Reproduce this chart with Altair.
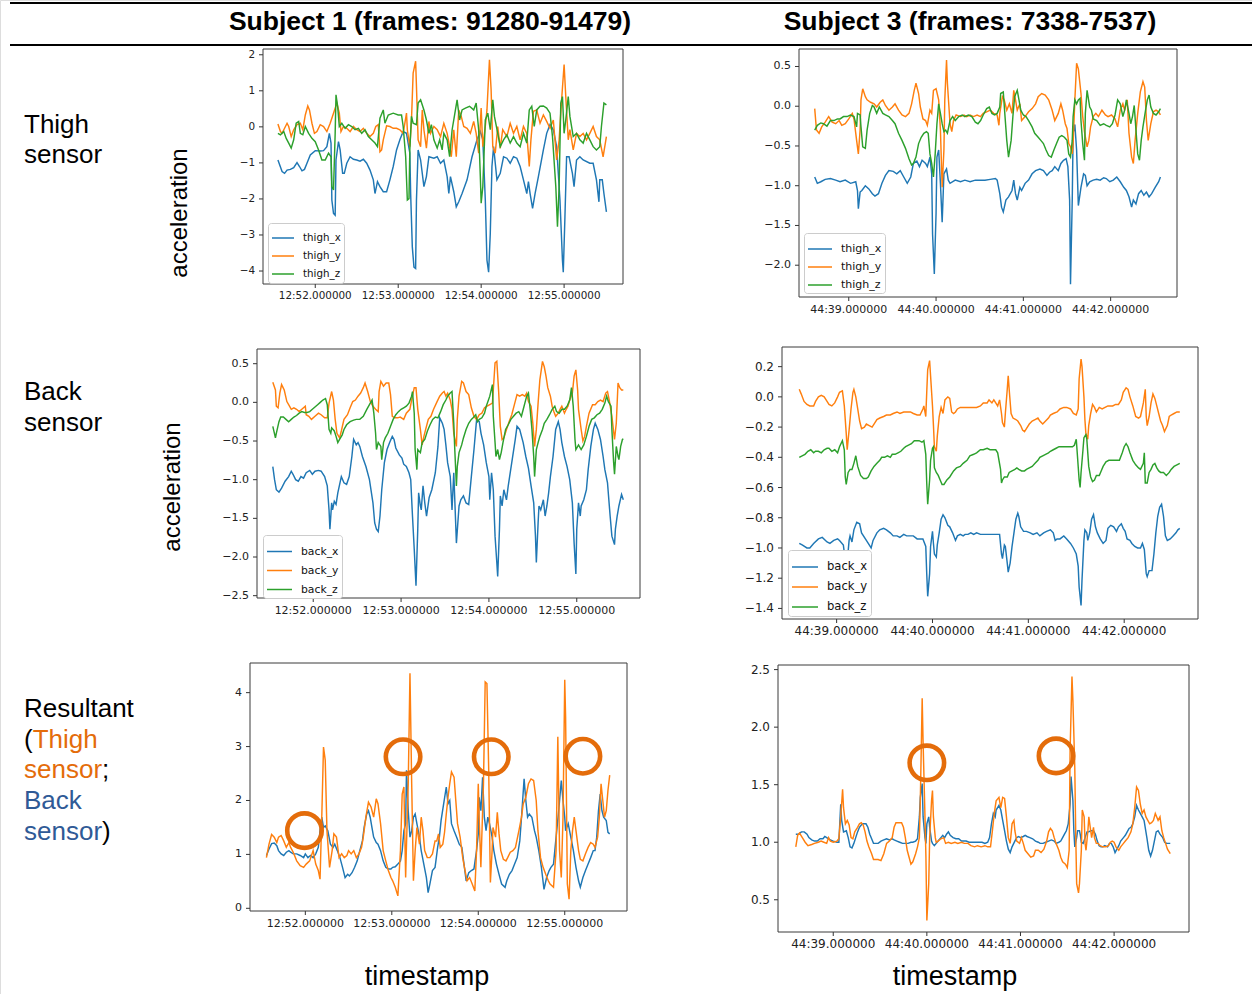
import altair as alt
import pandas as pd

# ---------------- data (time in seconds of the minute, value in g) ----------------
S1_THIGH_X = [(51.55,-0.92),(51.60,-1.24),(51.63,-1.29),(51.66,-1.20),(51.70,-1.18),(51.74,-1.13),(51.78,-0.99),(51.81,-1.10),(51.84,-1.22),(51.87,-1.18),(51.90,-1.01),(51.94,-0.78),(52.00,-0.66),(52.06,-0.67),(52.10,-0.66),(52.14,-0.55),(52.17,-0.18),(52.19,-0.45),(52.20,-2.03),(52.22,-2.40),(52.24,-2.45),(52.25,-0.92),(52.28,-0.41),(52.30,-0.64),(52.33,-1.29),(52.35,-1.29),(52.38,-1.01),(52.42,-0.83),(52.46,-0.90),(52.50,-0.92),(52.54,-0.95),(52.58,-0.90),(52.62,-1.01),(52.66,-1.20),(52.70,-1.47),(52.72,-1.85),(52.75,-1.52),(52.78,-1.66),(52.82,-1.80),(52.86,-1.80),(52.90,-1.47),(52.94,-1.10),(52.98,-0.64),(53.02,-0.36),(53.06,-0.13),(53.10,-0.18),(53.14,-0.73),(53.15,-1.85),(53.17,-3.33),(53.19,-3.89),(53.21,-3.93),(53.22,-2.03),(53.24,-0.64),(53.27,-0.92),(53.31,-1.66),(53.34,-1.38),(53.37,-0.83),(53.43,-0.87),(53.47,-0.83),(53.51,-1.01),(53.55,-0.92),(53.59,-1.38),(53.61,-1.85),(53.63,-1.38),(53.67,-1.80),(53.70,-2.22),(53.73,-2.08),(53.77,-1.85),(53.83,-1.47),(53.89,-0.83),(53.95,-0.36),(53.99,-0.13),(54.02,-0.36),(54.05,-2.03),(54.07,-3.70),(54.09,-4.03),(54.11,-2.96),(54.13,-1.10),(54.15,-0.55),(54.19,-1.47),(54.23,-1.29),(54.27,-0.83),(54.31,-0.87),(54.35,-1.01),(54.39,-0.83),(54.43,-0.87),(54.47,-1.10),(54.51,-1.47),(54.55,-1.85),(54.57,-1.52),(54.59,-1.85),(54.62,-2.26),(54.65,-1.85),(54.69,-1.38),(54.75,-0.64),(54.79,-0.18),(54.83,0.06),(54.87,-0.08),(54.91,-0.55),(54.95,-2.03),(54.98,-3.70),(54.99,-4.03),(55.01,-2.50),(55.03,-0.83),(55.06,-0.83),(55.10,-1.29),(55.12,-1.66),(55.15,-0.92),(55.19,-0.83),(55.23,-0.92),(55.31,-1.01),(55.35,-1.01),(55.39,-1.47),(55.42,-2.08),(55.43,-1.47),(55.46,-1.47),(55.48,-1.85),(55.51,-2.36)]
S1_THIGH_Y = [(51.55,0.08),(51.58,-0.13),(51.60,-0.18),(51.63,-0.04),(51.66,0.10),(51.68,0.01),(51.71,-0.27),(51.74,-0.08),(51.78,0.06),(51.82,0.10),(51.85,-0.08),(51.88,0.33),(51.91,0.58),(51.93,0.47),(51.96,0.10),(51.99,-0.18),(52.02,-0.13),(52.06,0.06),(52.10,0.01),(52.14,-0.13),(52.18,0.10),(52.22,0.38),(52.26,0.66),(52.29,0.38),(52.31,-0.13),(52.34,0.01),(52.38,-0.04),(52.42,-0.13),(52.46,0.01),(52.50,-0.08),(52.54,-0.13),(52.58,-0.04),(52.62,-0.18),(52.66,-0.27),(52.70,-0.18),(52.73,0.01),(52.76,0.06),(52.78,-0.69),(52.80,-0.64),(52.82,-0.36),(52.86,0.03),(52.90,0.01),(52.94,-0.04),(52.98,-0.04),(53.02,-0.08),(53.06,-0.18),(53.10,0.38),(53.11,-0.08),(53.14,-0.55),(53.16,0.19),(53.18,1.49),(53.21,1.82),(53.22,1.12),(53.24,-0.36),(53.27,-0.55),(53.29,0.47),(53.31,-0.08),(53.34,-0.59),(53.37,0.15),(53.39,-0.18),(53.43,0.01),(53.47,-0.08),(53.51,-0.27),(53.55,0.10),(53.59,-0.18),(53.62,-0.55),(53.64,-0.83),(53.67,-0.08),(53.70,-0.83),(53.73,0.47),(53.76,0.29),(53.79,0.01),(53.83,-0.04),(53.87,-0.18),(53.91,0.15),(53.94,-0.18),(53.97,-0.73),(54.00,0.52),(54.02,-0.55),(54.05,0.01),(54.07,0.47),(54.10,1.86),(54.12,1.03),(54.14,-0.55),(54.17,-0.73),(54.20,0.01),(54.23,-0.59),(54.26,-0.08),(54.31,-0.27),(54.35,0.10),(54.39,-0.18),(54.43,0.01),(54.47,-0.36),(54.51,0.01),(54.55,-0.18),(54.58,-1.10),(54.60,-0.36),(54.63,0.43),(54.67,0.47),(54.71,0.10),(54.75,0.33),(54.79,0.15),(54.83,-0.04),(54.87,0.19),(54.91,-0.92),(54.94,-0.36),(54.97,0.75),(55.00,1.73),(55.02,0.84),(55.05,-0.36),(55.07,-0.08),(55.11,-0.64),(55.15,-0.18),(55.19,-0.27),(55.23,-0.18),(55.27,-0.36),(55.31,-0.18),(55.35,0.01),(55.39,-0.27),(55.43,-0.36),(55.47,-0.83),(55.51,-0.27)]
S1_THIGH_Z = [(51.55,-0.18),(51.58,-0.22),(51.62,-0.13),(51.65,-0.32),(51.68,-0.45),(51.71,-0.59),(51.74,-0.36),(51.77,0.10),(51.80,0.15),(51.82,-0.18),(51.85,-0.22),(51.88,0.01),(51.92,-0.18),(51.96,-0.32),(52.00,-0.41),(52.04,-0.64),(52.08,-0.92),(52.12,-0.92),(52.16,-0.73),(52.19,-0.83),(52.20,-1.66),(52.22,-1.75),(52.24,-0.18),(52.25,0.89),(52.27,0.57),(52.29,0.01),(52.32,0.10),(52.36,-0.04),(52.40,0.06),(52.44,0.01),(52.48,-0.08),(52.52,-0.04),(52.56,-0.18),(52.60,-0.08),(52.64,-0.27),(52.68,-0.36),(52.72,-0.45),(52.75,-0.55),(52.78,0.24),(52.82,0.47),(52.84,0.10),(52.88,0.33),(52.94,0.38),(53.00,0.33),(53.04,0.33),(53.06,0.01),(53.09,-0.83),(53.11,-2.03),(53.13,-1.99),(53.14,-0.64),(53.16,0.29),(53.18,0.10),(53.22,0.06),(53.24,0.66),(53.27,0.75),(53.31,0.47),(53.34,0.19),(53.37,-0.18),(53.40,0.06),(53.43,-0.36),(53.47,-0.59),(53.50,-0.36),(53.53,-0.64),(53.55,-0.18),(53.59,-0.36),(53.62,-0.83),(53.65,-0.08),(53.68,0.33),(53.71,0.75),(53.74,0.19),(53.77,0.47),(53.81,0.52),(53.86,0.57),(53.91,0.47),(53.94,0.66),(53.97,-0.08),(53.99,-1.38),(54.00,-2.12),(54.02,-1.66),(54.05,0.19),(54.08,0.38),(54.11,-0.08),(54.14,0.75),(54.16,0.29),(54.20,-0.18),(54.23,-0.55),(54.27,-0.36),(54.31,-0.22),(54.35,-0.45),(54.39,-0.27),(54.43,-0.45),(54.47,-0.55),(54.51,-0.18),(54.55,-0.45),(54.58,0.47),(54.61,0.57),(54.64,0.01),(54.67,0.47),(54.71,0.57),(54.75,0.58),(54.79,0.52),(54.83,0.38),(54.86,-0.27),(54.90,-1.66),(54.92,-2.77),(54.94,-1.66),(54.96,0.66),(54.98,0.84),(55.00,-0.18),(55.02,0.19),(55.05,0.84),(55.07,0.29),(55.11,-0.27),(55.15,-0.18),(55.19,-0.36),(55.23,-0.45),(55.27,-0.18),(55.31,-0.36),(55.35,-0.55),(55.39,-0.64),(55.43,-0.55),(55.45,0.01),(55.48,0.66),(55.51,0.61)]

S3_THIGH_X = [(38.61,-0.89),(38.64,-0.97),(38.68,-0.95),(38.73,-0.92),(38.79,-0.91),(38.85,-0.93),(38.90,-0.95),(38.96,-0.93),(39.02,-0.97),(39.08,-0.95),(39.10,-1.06),(39.11,-1.29),(39.13,-1.08),(39.15,-1.06),(39.19,-1.00),(39.23,-1.04),(39.27,-1.10),(39.30,-1.13),(39.34,-1.10),(39.38,-0.97),(39.42,-0.87),(39.46,-0.81),(39.51,-0.82),(39.55,-0.85),(39.59,-0.81),(39.63,-0.89),(39.67,-0.97),(39.71,-0.89),(39.74,-0.72),(39.78,-0.69),(39.81,-0.76),(39.84,-0.68),(39.88,-0.72),(39.90,-0.76),(39.93,-0.64),(39.95,-0.85),(39.96,-1.61),(39.98,-2.11),(40.00,-1.35),(40.01,-0.64),(40.03,-0.55),(40.05,-0.97),(40.07,-1.46),(40.09,-0.85),(40.12,-0.79),(40.14,-0.93),(40.16,-0.97),(40.22,-0.93),(40.28,-0.95),(40.33,-0.93),(40.39,-0.95),(40.45,-0.93),(40.51,-0.93),(40.56,-0.93),(40.62,-0.92),(40.68,-0.91),(40.70,-0.93),(40.73,-1.10),(40.75,-1.27),(40.77,-1.33),(40.80,-1.18),(40.83,-1.14),(40.87,-1.06),(40.89,-0.93),(40.91,-1.10),(40.93,-1.18),(40.96,-1.02),(40.98,-1.06),(41.02,-0.97),(41.06,-0.93),(41.10,-0.85),(41.14,-0.81),(41.19,-0.79),(41.23,-0.81),(41.27,-0.87),(41.30,-0.83),(41.33,-0.81),(41.36,-0.76),(41.40,-0.81),(41.43,-0.72),(41.46,-0.68),(41.49,-0.66),(41.51,-0.76),(41.53,-1.18),(41.54,-2.24),(41.56,-1.18),(41.57,-0.34),(41.59,-0.23),(41.61,-0.55),(41.63,-1.25),(41.66,-1.02),(41.69,-0.85),(41.71,-0.87),(41.73,-1.00),(41.76,-0.95),(41.80,-0.93),(41.84,-0.92),(41.88,-0.93),(41.92,-0.90),(41.95,-0.91),(41.99,-0.95),(42.03,-0.93),(42.07,-0.89),(42.11,-0.95),(42.15,-1.02),(42.18,-1.06),(42.21,-1.14),(42.24,-1.27),(42.26,-1.18),(42.29,-1.23),(42.32,-1.10),(42.35,-1.06),(42.38,-1.12),(42.41,-1.08),(42.44,-1.14),(42.47,-1.10),(42.51,-1.02),(42.55,-0.95),(42.57,-0.89)]
S3_THIGH_Y = [(38.61,-0.03),(38.63,-0.30),(38.66,-0.34),(38.69,-0.26),(38.73,-0.20),(38.77,-0.13),(38.81,-0.20),(38.85,-0.22),(38.89,-0.18),(38.92,-0.24),(38.96,-0.22),(39.00,-0.16),(39.04,-0.09),(39.06,-0.16),(39.09,-0.43),(39.11,-0.60),(39.13,-0.30),(39.14,0.08),(39.16,0.22),(39.19,0.12),(39.21,0.08),(39.25,0.05),(39.29,0.03),(39.32,-0.01),(39.36,0.05),(39.39,0.08),(39.42,0.01),(39.46,-0.05),(39.50,-0.01),(39.53,0.03),(39.57,-0.05),(39.61,-0.11),(39.65,-0.13),(39.69,-0.09),(39.72,0.03),(39.75,0.20),(39.77,0.29),(39.80,0.16),(39.82,-0.01),(39.85,-0.16),(39.88,-0.18),(39.90,-0.24),(39.93,-0.05),(39.95,-0.09),(39.97,0.20),(40.00,0.22),(40.03,0.08),(40.05,-0.30),(40.07,-1.02),(40.09,-0.55),(40.10,0.08),(40.12,0.58),(40.13,0.29),(40.16,-0.22),(40.18,-0.32),(40.20,-0.18),(40.23,-0.11),(40.28,-0.13),(40.32,-0.11),(40.35,-0.13),(40.39,-0.11),(40.43,-0.13),(40.47,-0.11),(40.51,-0.13),(40.54,-0.09),(40.58,-0.07),(40.62,-0.05),(40.66,-0.09),(40.70,-0.11),(40.72,-0.24),(40.73,-0.09),(40.76,0.12),(40.78,0.08),(40.81,-0.05),(40.84,0.03),(40.87,-0.09),(40.89,0.20),(40.91,0.08),(40.93,-0.05),(40.96,0.03),(40.98,-0.18),(41.02,-0.13),(41.06,-0.07),(41.10,-0.03),(41.14,0.03),(41.17,0.12),(41.21,0.16),(41.25,0.14),(41.29,0.08),(41.33,-0.05),(41.36,-0.18),(41.40,-0.09),(41.43,0.03),(41.45,-0.05),(41.48,-0.22),(41.50,-0.28),(41.52,-0.47),(41.54,-0.51),(41.56,-0.60),(41.57,-0.47),(41.59,0.08),(41.61,0.54),(41.63,0.47),(41.66,0.16),(41.68,-0.13),(41.70,-0.32),(41.73,-0.51),(41.75,-0.43),(41.77,-0.26),(41.80,-0.13),(41.83,-0.09),(41.86,-0.13),(41.90,-0.05),(41.94,-0.11),(41.97,-0.13),(42.01,-0.11),(42.05,-0.16),(42.08,-0.26),(42.11,-0.05),(42.14,0.03),(42.16,-0.05),(42.19,0.08),(42.21,-0.34),(42.24,-0.64),(42.26,-0.72),(42.28,-0.43),(42.31,-0.09),(42.34,0.18),(42.37,0.31),(42.39,0.24),(42.41,-0.18),(42.43,-0.43),(42.46,-0.22),(42.49,-0.07),(42.52,-0.05),(42.55,-0.07),(42.57,-0.11)]
S3_THIGH_Z = [(38.61,-0.30),(38.64,-0.24),(38.68,-0.21),(38.71,-0.22),(38.75,-0.25),(38.79,-0.18),(38.83,-0.18),(38.87,-0.16),(38.90,-0.16),(38.94,-0.13),(38.98,-0.13),(39.02,-0.11),(39.06,-0.13),(39.09,-0.26),(39.10,-0.09),(39.13,-0.11),(39.14,-0.26),(39.16,-0.51),(39.19,-0.53),(39.21,-0.30),(39.24,-0.09),(39.27,0.01),(39.29,-0.01),(39.32,-0.09),(39.35,-0.01),(39.39,-0.09),(39.42,-0.11),(39.46,-0.13),(39.50,-0.18),(39.53,-0.22),(39.57,-0.34),(39.61,-0.43),(39.65,-0.53),(39.69,-0.66),(39.72,-0.74),(39.74,-0.72),(39.77,-0.64),(39.80,-0.47),(39.83,-0.39),(39.86,-0.34),(39.89,-0.32),(39.91,-0.34),(39.93,-0.60),(39.95,-0.72),(39.97,-0.89),(39.99,-0.60),(40.01,-0.22),(40.03,0.03),(40.05,-0.09),(40.07,-0.22),(40.09,-0.32),(40.11,-0.30),(40.13,-0.34),(40.16,-0.18),(40.19,-0.13),(40.22,-0.18),(40.26,-0.13),(40.30,-0.11),(40.33,-0.13),(40.37,-0.11),(40.41,-0.13),(40.45,-0.20),(40.48,-0.22),(40.51,-0.18),(40.54,-0.11),(40.58,-0.03),(40.61,-0.01),(40.64,-0.09),(40.67,-0.11),(40.70,-0.09),(40.73,-0.01),(40.74,0.16),(40.77,0.18),(40.79,-0.13),(40.81,-0.43),(40.83,-0.64),(40.86,-0.43),(40.88,-0.13),(40.90,0.12),(40.93,0.20),(40.95,0.08),(40.97,-0.05),(41.00,-0.11),(41.03,-0.13),(41.06,-0.18),(41.10,-0.26),(41.13,-0.34),(41.17,-0.39),(41.20,-0.43),(41.23,-0.47),(41.26,-0.55),(41.29,-0.62),(41.32,-0.64),(41.35,-0.55),(41.38,-0.47),(41.41,-0.39),(41.44,-0.37),(41.47,-0.39),(41.50,-0.43),(41.52,-0.60),(41.54,-0.64),(41.56,-0.43),(41.57,-0.13),(41.59,0.08),(41.61,0.03),(41.63,0.08),(41.65,0.10),(41.66,-0.18),(41.68,-0.47),(41.70,-0.68),(41.71,-0.09),(41.73,0.20),(41.76,-0.01),(41.78,-0.05),(41.80,-0.16),(41.84,-0.18),(41.88,-0.24),(41.92,-0.22),(41.95,-0.24),(41.99,-0.26),(42.02,-0.22),(42.05,-0.11),(42.08,0.08),(42.11,0.03),(42.14,-0.13),(42.16,-0.05),(42.18,0.08),(42.21,-0.09),(42.23,-0.22),(42.25,-0.13),(42.27,0.01),(42.29,-0.30),(42.31,-0.60),(42.33,-0.68),(42.35,-0.43),(42.37,-0.26),(42.40,-0.05),(42.42,0.08),(42.44,0.14),(42.46,-0.01),(42.49,-0.09),(42.52,-0.11),(42.55,-0.07),(42.57,-0.03)]

S1_BACK_X = [(51.54,-0.83),(51.56,-1.00),(51.58,-1.13),(51.61,-1.16),(51.64,-1.11),(51.68,-1.02),(51.72,-0.96),(51.75,-0.89),(51.77,-0.93),(51.80,-1.00),(51.83,-1.02),(51.86,-0.96),(51.89,-0.98),(51.92,-0.91),(51.96,-0.88),(51.99,-0.93),(52.02,-0.89),(52.06,-0.88),(52.09,-0.89),(52.13,-0.96),(52.16,-1.08),(52.18,-1.39),(52.19,-1.64),(52.21,-1.30),(52.22,-1.39),(52.24,-1.28),(52.26,-1.32),(52.28,-1.17),(52.32,-0.96),(52.35,-1.04),(52.38,-1.06),(52.41,-0.96),(52.44,-0.70),(52.46,-0.48),(52.49,-0.55),(52.51,-0.52),(52.53,-0.57),(52.56,-0.70),(52.60,-0.83),(52.64,-1.00),(52.68,-1.30),(52.70,-1.56),(52.72,-1.64),(52.74,-1.67),(52.76,-1.47),(52.78,-1.13),(52.81,-0.78),(52.84,-0.61),(52.87,-0.52),(52.90,-0.44),(52.92,-0.48),(52.94,-0.59),(52.98,-0.68),(53.01,-0.72),(53.03,-0.80),(53.06,-0.83),(53.09,-0.91),(53.11,-1.00),(53.13,-1.47),(53.15,-1.90),(53.17,-2.37),(53.19,-1.64),(53.20,-1.17),(53.22,-1.34),(53.23,-1.39),(53.25,-1.08),(53.27,-1.30),(53.29,-1.47),(53.32,-1.23),(53.35,-1.13),(53.39,-0.91),(53.42,-0.57),(53.44,-0.20),(53.47,-0.27),(53.49,-0.35),(53.51,-0.55),(53.53,-0.78),(53.56,-0.96),(53.58,-1.39),(53.60,-0.91),(53.61,-1.21),(53.63,-1.82),(53.66,-1.34),(53.68,-1.26),(53.71,-1.21),(53.74,-1.30),(53.77,-1.32),(53.80,-0.96),(53.83,-0.61),(53.86,-0.22),(53.89,-0.25),(53.91,-0.40),(53.94,-0.55),(53.97,-0.78),(54.00,-0.96),(54.01,-1.26),(54.03,-0.91),(54.05,-1.13),(54.07,-1.73),(54.09,-2.07),(54.10,-2.25),(54.12,-1.64),(54.13,-1.21),(54.15,-1.34),(54.17,-1.13),(54.20,-1.26),(54.22,-1.08),(54.26,-0.78),(54.30,-0.48),(54.32,-0.31),(54.35,-0.35),(54.39,-0.52),(54.42,-0.70),(54.45,-0.85),(54.48,-1.08),(54.51,-1.30),(54.53,-1.73),(54.54,-2.07),(54.56,-1.56),(54.57,-1.34),(54.59,-1.39),(54.62,-1.26),(54.64,-1.47),(54.66,-1.34),(54.68,-1.17),(54.70,-0.96),(54.73,-0.70),(54.76,-0.35),(54.79,-0.25),(54.81,-0.35),(54.83,-0.52),(54.86,-0.70),(54.89,-0.83),(54.92,-1.00),(54.95,-1.30),(54.97,-1.82),(54.99,-2.22),(55.00,-1.64),(55.02,-1.30),(55.04,-1.47),(55.05,-1.34),(55.08,-1.26),(55.11,-1.13),(55.13,-0.87),(55.16,-0.57),(55.19,-0.35),(55.21,-0.27),(55.24,-0.35),(55.27,-0.48),(55.30,-0.70),(55.32,-0.87),(55.35,-1.04),(55.38,-1.47),(55.40,-1.73),(55.43,-1.84),(55.44,-1.64),(55.46,-1.47),(55.48,-1.34),(55.51,-1.19),(55.53,-1.26)]
S1_BACK_Y = [(51.54,0.26),(51.57,0.16),(51.58,-0.05),(51.60,-0.07),(51.62,0.12),(51.64,0.23),(51.67,0.16),(51.70,0.01),(51.73,-0.05),(51.75,-0.09),(51.78,-0.07),(51.81,-0.09),(51.84,-0.12),(51.87,-0.09),(51.91,-0.05),(51.92,-0.16),(51.95,-0.18),(51.98,-0.22),(52.02,-0.18),(52.06,-0.14),(52.09,-0.16),(52.13,-0.20),(52.16,-0.20),(52.18,-0.01),(52.21,0.14),(52.23,0.03),(52.25,-0.22),(52.27,-0.40),(52.30,-0.46),(52.32,-0.37),(52.35,-0.22),(52.39,-0.16),(52.42,-0.07),(52.45,0.01),(52.48,0.03),(52.51,0.08),(52.54,0.12),(52.57,0.19),(52.59,0.25),(52.62,0.14),(52.65,0.01),(52.68,-0.05),(52.71,-0.09),(52.74,-0.12),(52.75,0.14),(52.77,0.27),(52.80,0.21),(52.83,0.25),(52.86,0.25),(52.88,0.10),(52.90,-0.18),(52.93,-0.20),(52.96,-0.20),(52.99,-0.19),(53.03,-0.22),(53.06,-0.14),(53.10,-0.09),(53.12,0.03),(53.15,0.19),(53.17,0.19),(53.19,-0.09),(53.22,-0.35),(53.24,-0.55),(53.26,-0.44),(53.28,-0.35),(53.31,-0.22),(53.34,-0.18),(53.37,-0.09),(53.41,0.01),(53.44,0.08),(53.47,0.12),(53.49,0.14),(53.51,0.08),(53.53,0.12),(53.56,0.03),(53.58,-0.09),(53.60,-0.40),(53.63,-0.57),(53.64,-0.22),(53.66,0.08),(53.69,0.27),(53.71,0.25),(53.74,0.14),(53.77,0.10),(53.80,-0.07),(53.83,-0.18),(53.86,-0.22),(53.89,-0.16),(53.92,-0.14),(53.95,-0.07),(53.98,-0.05),(54.01,-0.03),(54.04,-0.01),(54.05,0.16),(54.07,0.51),(54.09,0.53),(54.11,0.16),(54.13,-0.31),(54.15,-0.48),(54.17,-0.46),(54.20,-0.35),(54.23,-0.25),(54.26,-0.16),(54.29,-0.03),(54.32,0.10),(54.35,0.08),(54.38,0.10),(54.41,0.08),(54.43,0.12),(54.45,0.01),(54.48,-0.05),(54.50,-0.27),(54.52,-0.57),(54.54,-0.35),(54.56,-0.01),(54.58,0.29),(54.61,0.53),(54.63,0.46),(54.65,0.34),(54.67,0.19),(54.70,0.08),(54.72,-0.05),(54.74,-0.12),(54.76,-0.18),(54.79,-0.14),(54.81,-0.09),(54.83,-0.05),(54.86,-0.14),(54.88,-0.09),(54.90,-0.05),(54.92,0.03),(54.95,0.12),(54.97,0.34),(54.99,0.42),(55.01,0.16),(55.02,-0.09),(55.05,-0.35),(55.07,-0.50),(55.09,-0.44),(55.11,-0.31),(55.14,-0.14),(55.18,-0.03),(55.21,-0.03),(55.24,0.01),(55.27,0.03),(55.30,0.01),(55.33,0.12),(55.35,0.14),(55.37,0.03),(55.40,-0.18),(55.43,-0.48),(55.45,-0.27),(55.47,0.25),(55.49,0.19),(55.51,0.16),(55.53,0.16)]
S1_BACK_Z = [(51.54,-0.31),(51.57,-0.46),(51.58,-0.40),(51.61,-0.25),(51.63,-0.19),(51.66,-0.19),(51.69,-0.22),(51.72,-0.25),(51.75,-0.22),(51.78,-0.19),(51.81,-0.17),(51.84,-0.14),(51.87,-0.12),(51.90,-0.13),(51.93,-0.13),(51.96,-0.12),(51.99,-0.09),(52.02,-0.06),(52.05,-0.03),(52.08,0.00),(52.11,0.03),(52.14,0.05),(52.16,-0.03),(52.18,-0.35),(52.20,-0.40),(52.21,-0.33),(52.24,-0.37),(52.26,-0.44),(52.28,-0.52),(52.30,-0.48),(52.33,-0.42),(52.35,-0.35),(52.38,-0.29),(52.42,-0.25),(52.46,-0.23),(52.49,-0.22),(52.53,-0.22),(52.57,-0.18),(52.61,-0.09),(52.64,-0.03),(52.67,0.03),(52.69,-0.14),(52.71,-0.40),(52.72,-0.61),(52.74,-0.52),(52.77,-0.57),(52.78,-0.74),(52.80,-0.52),(52.82,-0.46),(52.85,-0.40),(52.88,-0.31),(52.91,-0.22),(52.94,-0.16),(52.97,-0.12),(53.00,-0.09),(53.03,-0.07),(53.06,-0.05),(53.09,-0.01),(53.12,0.08),(53.13,0.14),(53.15,-0.14),(53.16,-0.61),(53.18,-0.87),(53.19,-0.61),(53.22,-0.65),(53.24,-0.52),(53.27,-0.48),(53.30,-0.37),(53.33,-0.29),(53.36,-0.22),(53.39,-0.19),(53.42,-0.20),(53.45,-0.12),(53.48,-0.03),(53.51,0.03),(53.53,0.08),(53.56,0.12),(53.58,0.14),(53.60,-0.27),(53.61,-0.57),(53.63,-1.08),(53.64,-0.83),(53.66,-0.65),(53.69,-0.55),(53.71,-0.46),(53.74,-0.35),(53.77,-0.27),(53.80,-0.22),(53.82,-0.20),(53.85,-0.16),(53.87,-0.25),(53.89,-0.22),(53.92,-0.20),(53.95,-0.14),(53.97,-0.05),(54.01,0.08),(54.04,0.23),(54.05,-0.18),(54.07,-0.52),(54.08,-0.70),(54.10,-0.61),(54.12,-0.74),(54.14,-0.65),(54.16,-0.52),(54.19,-0.35),(54.22,-0.29),(54.25,-0.22),(54.28,-0.18),(54.31,-0.14),(54.34,-0.12),(54.37,-0.18),(54.40,-0.05),(54.43,0.08),(54.45,0.12),(54.47,-0.09),(54.49,-0.35),(54.51,-0.70),(54.52,-0.96),(54.54,-0.61),(54.56,-0.52),(54.58,-0.44),(54.61,-0.35),(54.63,-0.27),(54.66,-0.22),(54.69,-0.16),(54.72,-0.09),(54.75,-0.05),(54.77,-0.12),(54.80,-0.14),(54.83,-0.09),(54.86,-0.09),(54.89,-0.05),(54.92,0.03),(54.94,0.19),(54.96,-0.05),(54.98,-0.48),(54.99,-0.61),(55.02,-0.55),(55.05,-0.61),(55.08,-0.55),(55.11,-0.44),(55.14,-0.31),(55.17,-0.22),(55.20,-0.20),(55.23,-0.16),(55.26,-0.14),(55.29,-0.09),(55.32,-0.01),(55.34,0.08),(55.36,0.01),(55.39,-0.05),(55.40,-0.35),(55.42,-0.78),(55.43,-0.93),(55.45,-0.57),(55.47,-0.70),(55.48,-0.74),(55.50,-0.57),(55.52,-0.48),(55.53,-0.47)]

S3_BACK_X = [(38.61,-0.97),(38.64,-0.98),(38.69,-1.00),(38.72,-1.00),(38.76,-0.97),(38.81,-0.94),(38.85,-0.93),(38.90,-0.96),(38.93,-0.97),(38.97,-0.95),(39.01,-0.94),(39.03,-0.95),(39.07,-0.98),(39.09,-1.08),(39.10,-1.17),(39.13,-0.95),(39.14,-0.92),(39.16,-0.96),(39.18,-0.88),(39.21,-0.83),(39.24,-0.84),(39.26,-0.90),(39.30,-0.94),(39.33,-0.97),(39.36,-1.00),(39.38,-0.95),(39.42,-0.90),(39.45,-0.88),(39.49,-0.87),(39.52,-0.88),(39.56,-0.90),(39.59,-0.92),(39.63,-0.92),(39.66,-0.93),(39.70,-0.91),(39.73,-0.92),(39.77,-0.92),(39.80,-0.92),(39.84,-0.94),(39.87,-0.94),(39.90,-0.94),(39.93,-0.99),(39.94,-1.17),(39.95,-1.32),(39.97,-1.17),(39.98,-0.99),(40.00,-0.89),(40.01,-0.97),(40.02,-1.04),(40.04,-1.06),(40.05,-0.98),(40.07,-0.90),(40.09,-0.81),(40.11,-0.78),(40.13,-0.80),(40.16,-0.85),(40.18,-0.86),(40.21,-0.90),(40.24,-0.95),(40.26,-0.92),(40.29,-0.91),(40.32,-0.92),(40.34,-0.91),(40.37,-0.91),(40.40,-0.90),(40.43,-0.91),(40.46,-0.90),(40.50,-0.91),(40.53,-0.91),(40.57,-0.91),(40.60,-0.91),(40.64,-0.91),(40.67,-0.91),(40.70,-0.91),(40.72,-1.04),(40.73,-1.07),(40.75,-0.98),(40.76,-0.99),(40.78,-1.10),(40.79,-1.16),(40.81,-1.10),(40.83,-0.99),(40.85,-0.90),(40.87,-0.81),(40.89,-0.77),(40.90,-0.79),(40.92,-0.86),(40.95,-0.89),(40.98,-0.89),(41.02,-0.90),(41.05,-0.91),(41.09,-0.90),(41.12,-0.92),(41.16,-0.90),(41.19,-0.89),(41.23,-0.88),(41.26,-0.90),(41.28,-0.95),(41.30,-0.94),(41.33,-0.94),(41.37,-0.92),(41.40,-0.94),(41.44,-0.97),(41.47,-1.00),(41.50,-1.04),(41.52,-1.12),(41.53,-1.26),(41.55,-1.38),(41.56,-1.21),(41.58,-0.95),(41.59,-0.88),(41.61,-0.90),(41.62,-0.95),(41.64,-0.90),(41.66,-0.81),(41.68,-0.78),(41.70,-0.86),(41.72,-0.90),(41.75,-0.94),(41.78,-0.97),(41.81,-0.95),(41.83,-0.87),(41.86,-0.85),(41.89,-0.86),(41.92,-0.89),(41.94,-0.86),(41.97,-0.84),(41.99,-0.87),(42.01,-0.89),(42.03,-0.94),(42.06,-0.95),(42.08,-0.97),(42.11,-0.99),(42.14,-1.00),(42.17,-1.00),(42.19,-0.97),(42.21,-1.01),(42.23,-1.17),(42.24,-1.19),(42.26,-1.15),(42.29,-1.15),(42.31,-1.04),(42.33,-0.90),(42.35,-0.79),(42.37,-0.73),(42.39,-0.71),(42.41,-0.79),(42.43,-0.92),(42.45,-0.95),(42.48,-0.94),(42.51,-0.92),(42.54,-0.90),(42.56,-0.88),(42.58,-0.87)]
S3_BACK_Y = [(38.61,0.05),(38.63,0.02),(38.66,-0.03),(38.69,-0.05),(38.72,-0.06),(38.76,-0.06),(38.78,-0.03),(38.81,0.00),(38.84,0.01),(38.87,0.00),(38.90,-0.03),(38.92,-0.05),(38.95,-0.06),(38.98,-0.04),(39.01,0.00),(39.03,0.03),(39.06,0.04),(39.08,-0.06),(39.10,-0.24),(39.11,-0.35),(39.13,-0.22),(39.15,-0.08),(39.17,0.03),(39.18,0.05),(39.20,0.00),(39.22,-0.08),(39.24,-0.16),(39.26,-0.21),(39.29,-0.20),(39.31,-0.18),(39.34,-0.19),(39.37,-0.20),(39.40,-0.17),(39.42,-0.15),(39.45,-0.14),(39.49,-0.13),(39.52,-0.12),(39.56,-0.12),(39.59,-0.11),(39.63,-0.10),(39.66,-0.11),(39.70,-0.10),(39.73,-0.10),(39.77,-0.10),(39.80,-0.11),(39.84,-0.12),(39.87,-0.12),(39.90,-0.08),(39.91,-0.06),(39.93,-0.13),(39.94,0.03),(39.95,0.18),(39.97,0.24),(39.98,0.14),(40.00,-0.06),(40.01,-0.19),(40.02,-0.33),(40.04,-0.36),(40.05,-0.26),(40.07,-0.13),(40.09,-0.07),(40.11,-0.11),(40.13,-0.02),(40.16,0.00),(40.18,-0.01),(40.20,-0.10),(40.22,-0.11),(40.24,-0.10),(40.26,-0.08),(40.29,-0.07),(40.32,-0.07),(40.36,-0.07),(40.39,-0.07),(40.43,-0.07),(40.46,-0.07),(40.50,-0.06),(40.53,-0.04),(40.57,-0.04),(40.59,-0.02),(40.62,-0.04),(40.64,-0.02),(40.66,-0.04),(40.68,-0.06),(40.70,-0.02),(40.72,-0.11),(40.73,-0.17),(40.75,-0.20),(40.76,-0.11),(40.78,0.05),(40.79,0.14),(40.80,0.05),(40.82,-0.11),(40.84,-0.14),(40.87,-0.15),(40.89,-0.16),(40.92,-0.19),(40.94,-0.22),(40.96,-0.23),(40.98,-0.21),(41.01,-0.18),(41.04,-0.16),(41.07,-0.15),(41.10,-0.14),(41.12,-0.16),(41.15,-0.18),(41.18,-0.16),(41.21,-0.14),(41.23,-0.12),(41.26,-0.11),(41.30,-0.10),(41.33,-0.08),(41.37,-0.07),(41.40,-0.07),(41.44,-0.08),(41.47,-0.11),(41.50,-0.12),(41.52,-0.08),(41.53,0.12),(41.55,0.25),(41.56,0.20),(41.58,0.00),(41.59,-0.15),(41.60,-0.24),(41.62,-0.28),(41.63,-0.19),(41.65,-0.11),(41.67,-0.05),(41.69,-0.07),(41.71,-0.10),(41.74,-0.07),(41.77,-0.08),(41.80,-0.07),(41.83,-0.06),(41.85,-0.06),(41.88,-0.06),(41.91,-0.05),(41.94,-0.05),(41.97,-0.02),(41.99,0.03),(42.02,0.06),(42.04,0.05),(42.06,0.00),(42.09,-0.06),(42.12,-0.13),(42.15,-0.14),(42.17,-0.13),(42.20,-0.04),(42.22,0.05),(42.23,-0.13),(42.24,-0.19),(42.26,-0.13),(42.28,-0.04),(42.30,0.02),(42.32,-0.01),(42.34,-0.06),(42.36,-0.11),(42.38,-0.16),(42.40,-0.19),(42.42,-0.23),(42.45,-0.19),(42.47,-0.13),(42.49,-0.12),(42.52,-0.11),(42.55,-0.10),(42.58,-0.10)]
S3_BACK_Z = [(38.61,-0.40),(38.64,-0.39),(38.67,-0.38),(38.70,-0.36),(38.73,-0.35),(38.76,-0.37),(38.78,-0.36),(38.81,-0.36),(38.84,-0.37),(38.87,-0.35),(38.90,-0.34),(38.92,-0.34),(38.95,-0.36),(38.98,-0.35),(39.01,-0.37),(39.03,-0.33),(39.06,-0.29),(39.08,-0.35),(39.09,-0.53),(39.10,-0.58),(39.12,-0.50),(39.14,-0.48),(39.16,-0.48),(39.18,-0.44),(39.20,-0.39),(39.22,-0.46),(39.25,-0.52),(39.28,-0.54),(39.31,-0.54),(39.33,-0.53),(39.36,-0.49),(39.39,-0.46),(39.42,-0.44),(39.45,-0.42),(39.47,-0.40),(39.50,-0.40),(39.53,-0.39),(39.56,-0.40),(39.58,-0.38),(39.61,-0.38),(39.64,-0.37),(39.67,-0.36),(39.70,-0.34),(39.72,-0.33),(39.75,-0.32),(39.78,-0.31),(39.81,-0.29),(39.84,-0.29),(39.86,-0.29),(39.89,-0.30),(39.91,-0.29),(39.93,-0.38),(39.94,-0.57),(39.95,-0.71),(39.97,-0.55),(39.98,-0.42),(40.00,-0.34),(40.01,-0.33),(40.02,-0.47),(40.04,-0.50),(40.06,-0.52),(40.08,-0.55),(40.10,-0.58),(40.12,-0.58),(40.15,-0.55),(40.18,-0.53),(40.22,-0.49),(40.25,-0.47),(40.29,-0.46),(40.32,-0.44),(40.36,-0.42),(40.39,-0.39),(40.43,-0.38),(40.46,-0.37),(40.50,-0.35),(40.53,-0.35),(40.57,-0.34),(40.60,-0.35),(40.64,-0.35),(40.66,-0.35),(40.68,-0.37),(40.71,-0.48),(40.72,-0.57),(40.73,-0.55),(40.75,-0.53),(40.78,-0.53),(40.80,-0.50),(40.83,-0.49),(40.86,-0.48),(40.88,-0.47),(40.90,-0.48),(40.93,-0.49),(40.96,-0.49),(40.98,-0.48),(41.01,-0.47),(41.04,-0.46),(41.07,-0.44),(41.10,-0.42),(41.12,-0.40),(41.15,-0.39),(41.18,-0.38),(41.21,-0.37),(41.23,-0.36),(41.26,-0.35),(41.29,-0.34),(41.32,-0.33),(41.35,-0.33),(41.37,-0.33),(41.40,-0.33),(41.43,-0.33),(41.46,-0.33),(41.48,-0.32),(41.50,-0.28),(41.51,-0.37),(41.53,-0.55),(41.54,-0.60),(41.55,-0.50),(41.57,-0.35),(41.58,-0.27),(41.60,-0.25),(41.61,-0.28),(41.63,-0.46),(41.65,-0.53),(41.67,-0.56),(41.69,-0.55),(41.71,-0.52),(41.74,-0.52),(41.76,-0.49),(41.78,-0.46),(41.81,-0.43),(41.84,-0.42),(41.87,-0.42),(41.90,-0.42),(41.92,-0.42),(41.95,-0.42),(41.98,-0.37),(42.00,-0.33),(42.02,-0.31),(42.04,-0.33),(42.06,-0.37),(42.09,-0.42),(42.12,-0.45),(42.15,-0.47),(42.17,-0.48),(42.20,-0.44),(42.21,-0.37),(42.22,-0.57),(42.24,-0.57),(42.26,-0.50),(42.28,-0.48),(42.30,-0.45),(42.32,-0.44),(42.34,-0.47),(42.36,-0.49),(42.38,-0.50),(42.41,-0.50),(42.44,-0.52),(42.47,-0.50),(42.49,-0.48),(42.52,-0.46),(42.55,-0.45),(42.58,-0.44)]

S1_RES_THIGH = [(51.55,0.94),(51.58,1.19),(51.61,1.37),(51.64,1.32),(51.67,1.22),(51.69,1.32),(51.72,1.35),(51.75,1.25),(51.78,1.13),(51.81,1.22),(51.83,1.13),(51.86,1.04),(51.90,0.88),(51.94,0.79),(51.98,0.76),(52.01,0.82),(52.05,0.88),(52.09,1.07),(52.12,0.82),(52.15,0.70),(52.17,0.54),(52.19,1.69),(52.21,2.99),(52.23,2.75),(52.25,1.44),(52.28,0.76),(52.31,1.07),(52.33,1.38),(52.36,1.32),(52.39,0.94),(52.42,1.01),(52.45,0.94),(52.48,0.98),(52.50,1.07),(52.53,1.01),(52.56,1.07),(52.59,0.94),(52.62,1.01),(52.65,1.13),(52.67,1.32),(52.70,1.69),(52.73,1.97),(52.76,1.88),(52.79,1.69),(52.82,2.03),(52.84,1.94),(52.87,1.57),(52.90,1.07),(52.93,0.88),(52.96,0.70),(52.99,0.57),(53.01,0.51),(53.04,0.39),(53.07,0.23),(53.10,1.07),(53.12,2.12),(53.14,2.25),(53.16,0.57),(53.17,1.19),(53.19,2.31),(53.21,4.36),(53.23,2.31),(53.25,0.51),(53.27,1.07),(53.29,1.50),(53.32,1.19),(53.34,1.69),(53.36,1.44),(53.38,1.07),(53.41,0.94),(53.44,0.94),(53.47,1.01),(53.50,1.25),(53.52,1.25),(53.54,1.38),(53.56,1.13),(53.59,1.19),(53.61,1.41),(53.63,1.75),(53.65,2.06),(53.67,2.31),(53.69,2.53),(53.72,2.43),(53.74,2.00),(53.76,1.57),(53.79,1.32),(53.82,0.94),(53.84,0.76),(53.87,0.51),(53.90,0.57),(53.93,0.45),(53.96,0.32),(53.98,1.07),(54.00,2.31),(54.01,1.69),(54.03,0.76),(54.06,2.31),(54.08,4.20),(54.10,4.17),(54.12,2.62),(54.14,0.48),(54.16,1.07),(54.17,1.50),(54.20,1.32),(54.22,1.78),(54.24,1.38),(54.26,1.07),(54.29,0.91),(54.32,0.88),(54.34,0.94),(54.37,1.04),(54.40,1.07),(54.43,1.13),(54.47,1.44),(54.50,1.69),(54.52,1.94),(54.55,2.06),(54.58,2.31),(54.61,2.40),(54.64,2.37),(54.67,2.00),(54.69,1.44),(54.72,0.94),(54.75,0.76),(54.78,0.63),(54.81,0.51),(54.83,0.45),(54.87,0.39),(54.90,1.07),(54.92,3.18),(54.94,1.07),(54.96,0.57),(54.98,1.69),(55.00,4.24),(55.01,3.55),(55.03,0.45),(55.05,0.17),(55.07,1.07),(55.09,1.44),(55.11,1.69),(55.13,1.44),(55.16,1.07),(55.18,0.91),(55.21,0.88),(55.24,1.01),(55.27,1.13),(55.30,1.22),(55.33,1.19),(55.35,1.13),(55.38,1.32),(55.40,1.69),(55.42,2.31),(55.44,2.00),(55.46,1.69),(55.48,1.81),(55.50,2.19),(55.52,2.47)]
S1_RES_BACK = [(51.55,0.98),(51.58,1.10),(51.61,1.20),(51.64,1.21),(51.67,1.16),(51.69,1.07),(51.72,1.01),(51.75,0.98),(51.78,1.04),(51.81,1.07),(51.83,1.04),(51.86,1.01),(51.90,1.01),(51.94,0.98),(51.98,0.94),(52.00,1.01),(52.03,0.94),(52.06,0.98),(52.09,0.94),(52.12,1.01),(52.15,1.13),(52.17,1.44),(52.19,1.69),(52.21,1.50),(52.23,1.53),(52.26,1.44),(52.29,1.19),(52.32,1.13),(52.34,1.19),(52.37,1.07),(52.40,0.94),(52.43,0.76),(52.46,0.57),(52.49,0.63),(52.51,0.60),(52.54,0.66),(52.57,0.76),(52.60,0.88),(52.63,1.07),(52.66,1.25),(52.68,1.50),(52.71,1.75),(52.73,1.81),(52.75,1.69),(52.77,1.50),(52.79,1.32),(52.82,1.22),(52.84,1.19),(52.87,1.07),(52.90,0.88),(52.93,0.76),(52.96,0.73),(52.99,0.73),(53.01,0.76),(53.04,0.77),(53.07,0.82),(53.10,0.88),(53.12,1.07),(53.14,1.44),(53.16,1.57),(53.17,2.56),(53.19,1.81),(53.21,1.32),(53.23,1.44),(53.25,1.69),(53.27,1.75),(53.29,1.57),(53.32,1.32),(53.34,1.07),(53.37,0.82),(53.40,0.57),(53.42,0.29),(53.44,0.45),(53.47,0.70),(53.50,0.76),(53.51,0.88),(53.53,1.13),(53.55,1.32),(53.57,1.63),(53.60,1.94),(53.63,2.25),(53.65,1.94),(53.67,2.00),(53.69,1.57),(53.72,1.44),(53.75,1.32),(53.78,1.19),(53.81,1.13),(53.83,0.88),(53.86,0.51),(53.89,0.66),(53.92,0.70),(53.95,0.73),(53.98,1.07),(54.00,1.38),(54.01,2.06),(54.03,1.81),(54.05,2.43),(54.07,1.69),(54.09,1.44),(54.11,1.69),(54.13,1.57),(54.16,1.32),(54.18,1.07),(54.21,0.82),(54.24,0.63),(54.27,0.45),(54.31,0.39),(54.33,0.51),(54.36,0.63),(54.39,0.70),(54.42,0.82),(54.45,0.94),(54.48,1.25),(54.50,1.69),(54.53,2.40),(54.55,2.00),(54.57,1.69),(54.59,1.75),(54.62,1.69),(54.65,1.44),(54.67,1.32),(54.70,1.07),(54.73,0.76),(54.76,0.35),(54.79,0.57),(54.82,0.70),(54.84,0.76),(54.87,0.82),(54.90,1.32),(54.93,1.81),(54.96,2.37),(54.98,2.00),(55.00,1.69),(55.01,1.44),(55.04,1.57),(55.07,1.32),(55.10,1.07),(55.13,0.76),(55.16,0.51),(55.18,0.39),(55.21,0.57),(55.24,0.70),(55.27,0.82),(55.30,0.94),(55.33,1.07),(55.35,1.07),(55.37,1.32),(55.39,1.81),(55.41,2.12),(55.43,1.81),(55.45,1.69),(55.48,1.63),(55.50,1.41),(55.52,1.38)]

S3_RES_THIGH = [(38.60,0.96),(38.62,1.06),(38.64,1.08),(38.67,1.04),(38.70,1.00),(38.73,0.97),(38.77,0.98),(38.80,0.99),(38.84,1.00),(38.87,1.01),(38.90,1.00),(38.93,0.99),(38.95,1.04),(38.97,1.01),(39.00,1.00),(39.04,1.01),(39.06,1.03),(39.08,1.22),(39.10,1.46),(39.11,1.30),(39.13,1.16),(39.15,1.19),(39.17,1.15),(39.19,1.04),(39.21,1.03),(39.23,1.09),(39.26,1.13),(39.28,1.16),(39.30,1.17),(39.32,1.15),(39.34,1.09),(39.36,1.01),(39.38,0.96),(39.41,0.90),(39.43,0.85),(39.46,0.85),(39.48,0.85),(39.51,0.84),(39.54,0.90),(39.57,0.99),(39.60,1.01),(39.63,1.04),(39.65,1.13),(39.67,1.17),(39.70,1.17),(39.73,1.17),(39.75,1.13),(39.77,1.04),(39.79,0.93),(39.81,0.87),(39.83,0.81),(39.85,0.83),(39.88,0.90),(39.90,0.96),(39.92,1.04),(39.93,1.36),(39.95,2.25),(39.96,1.86),(39.98,1.22),(39.99,0.87),(40.00,0.32),(40.02,0.64),(40.03,1.04),(40.05,1.36),(40.06,1.45),(40.07,1.22),(40.09,1.04),(40.10,1.00),(40.12,1.01),(40.15,1.03),(40.18,1.04),(40.20,0.99),(40.23,1.00),(40.26,0.99),(40.30,1.00),(40.33,0.99),(40.37,1.00),(40.40,0.99),(40.44,0.99),(40.47,0.97),(40.51,0.96),(40.54,0.97),(40.58,0.96),(40.62,0.97),(40.65,0.96),(40.68,0.96),(40.70,1.10),(40.72,1.25),(40.74,1.36),(40.77,1.39),(40.79,1.30),(40.81,1.39),(40.83,1.38),(40.85,1.22),(40.87,1.04),(40.89,0.99),(40.91,1.16),(40.93,1.19),(40.94,1.10),(40.96,1.01),(40.99,0.99),(41.01,1.04),(41.03,0.99),(41.05,0.93),(41.08,0.90),(41.11,0.87),(41.14,0.88),(41.16,0.93),(41.19,0.93),(41.22,0.91),(41.25,0.94),(41.28,1.01),(41.30,1.09),(41.32,1.12),(41.34,1.10),(41.36,1.04),(41.38,0.99),(41.41,0.93),(41.43,0.87),(41.45,0.83),(41.48,0.81),(41.50,0.78),(41.52,0.93),(41.53,1.80),(41.55,2.44),(41.56,2.23),(41.58,1.65),(41.59,1.07),(41.60,0.64),(41.62,0.56),(41.63,0.64),(41.65,0.93),(41.66,1.28),(41.68,1.22),(41.69,0.99),(41.70,0.93),(41.72,1.10),(41.73,1.22),(41.75,1.10),(41.76,1.04),(41.78,1.13),(41.79,1.04),(41.81,0.99),(41.83,0.99),(41.85,0.97),(41.88,0.96),(41.91,0.96),(41.94,0.97),(41.96,1.00),(41.98,1.01),(42.00,1.00),(42.02,0.96),(42.05,0.93),(42.07,0.96),(42.10,0.99),(42.12,1.01),(42.15,1.04),(42.18,1.09),(42.20,1.16),(42.22,1.30),(42.24,1.48),(42.26,1.45),(42.28,1.33),(42.30,1.25),(42.32,1.28),(42.34,1.22),(42.36,1.19),(42.38,1.16),(42.40,1.17),(42.42,1.19),(42.44,1.25),(42.47,1.19),(42.49,1.22),(42.51,1.10),(42.53,1.04),(42.55,0.99),(42.57,0.94),(42.60,0.90)]
S3_RES_BACK = [(38.60,1.07),(38.63,1.07),(38.66,1.09),(38.69,1.09),(38.72,1.07),(38.74,1.04),(38.77,1.02),(38.80,1.01),(38.83,1.01),(38.86,1.03),(38.89,1.03),(38.91,1.05),(38.93,1.04),(38.95,1.03),(38.97,1.02),(39.00,1.01),(39.04,1.00),(39.06,1.00),(39.08,1.33),(39.09,1.19),(39.11,1.09),(39.14,1.10),(39.16,1.04),(39.18,0.96),(39.20,0.95),(39.22,0.99),(39.24,1.04),(39.26,1.09),(39.28,1.13),(39.31,1.16),(39.33,1.16),(39.35,1.16),(39.37,1.13),(39.39,1.07),(39.41,1.03),(39.43,0.99),(39.46,0.99),(39.48,0.99),(39.51,1.01),(39.54,1.02),(39.57,1.03),(39.60,1.02),(39.63,1.03),(39.65,1.02),(39.68,1.01),(39.71,1.00),(39.74,0.99),(39.77,0.99),(39.80,0.99),(39.83,1.00),(39.85,1.00),(39.88,1.01),(39.90,1.03),(39.92,1.22),(39.93,1.39),(39.95,1.51),(39.96,1.22),(39.98,1.04),(39.99,0.99),(40.00,1.16),(40.02,1.22),(40.03,1.13),(40.05,1.01),(40.06,0.99),(40.08,0.97),(40.10,0.99),(40.12,1.01),(40.15,1.04),(40.17,1.06),(40.19,1.04),(40.21,1.07),(40.23,1.09),(40.25,1.06),(40.28,1.04),(40.31,1.03),(40.34,1.03),(40.37,1.01),(40.40,1.01),(40.42,1.01),(40.45,1.00),(40.48,1.00),(40.51,1.00),(40.54,1.00),(40.57,1.00),(40.59,1.00),(40.62,0.99),(40.65,1.00),(40.67,1.04),(40.69,1.16),(40.71,1.25),(40.73,1.22),(40.74,1.28),(40.77,1.32),(40.79,1.28),(40.81,1.19),(40.83,1.10),(40.85,1.01),(40.87,0.94),(40.89,0.91),(40.91,0.96),(40.94,1.01),(40.96,1.04),(40.98,1.05),(41.00,1.04),(41.03,1.05),(41.05,1.06),(41.07,1.05),(41.10,1.04),(41.13,1.03),(41.16,1.01),(41.19,1.00),(41.21,0.99),(41.24,0.99),(41.27,1.00),(41.30,1.01),(41.33,1.02),(41.36,1.01),(41.38,0.99),(41.41,1.00),(41.43,1.01),(41.45,1.04),(41.47,1.07),(41.49,1.10),(41.51,1.16),(41.53,1.33),(41.54,1.57),(41.56,1.36),(41.57,1.10),(41.58,0.96),(41.60,1.04),(41.61,1.10),(41.63,1.10),(41.64,1.06),(41.65,1.00),(41.67,0.99),(41.69,1.04),(41.71,1.09),(41.73,1.09),(41.75,1.10),(41.78,1.10),(41.80,1.07),(41.82,1.01),(41.84,0.97),(41.86,0.96),(41.88,0.96),(41.90,0.97),(41.93,0.96),(41.95,0.99),(41.97,0.99),(41.99,0.96),(42.01,0.91),(42.03,0.94),(42.05,0.97),(42.07,1.01),(42.10,1.04),(42.12,1.06),(42.14,1.09),(42.16,1.12),(42.18,1.13),(42.20,1.16),(42.22,1.22),(42.24,1.32),(42.26,1.28),(42.28,1.25),(42.30,1.22),(42.32,1.19),(42.35,1.04),(42.37,0.93),(42.39,0.88),(42.41,0.93),(42.43,1.01),(42.45,1.09),(42.47,1.10),(42.49,1.07),(42.52,1.04),(42.54,1.00),(42.56,0.99),(42.58,0.99),(42.60,0.99)]

S1_CIRCLES = [(51.99,1.44),(53.13,2.81),(54.15,2.81),(55.21,2.82)]
S3_CIRCLES = [(40.00,1.69),(41.38,1.75)]

S1_XTICKS = [52, 53, 54, 55]
S3_XTICKS = [39, 40, 41, 42]
TITLE_S1 = "Subject 1 (frames: 91280-91479)"
TITLE_S3 = "Subject 3 (frames: 7338-7537)"

# ---------------- style / layout ----------------
W, H = 1252, 994
BLUE, ORANGE, GREEN = "#1f77b4", "#ff7f0e", "#2ca02c"
TXT_ORANGE, TXT_BLUE = "#E46C0A", "#2F5A96"
SANS = "Liberation Sans"
TICKFONT = "DejaVu Sans"

PANELS = [
    dict(series=[("thigh_x", S1_THIGH_X, BLUE), ("thigh_y", S1_THIGH_Y, ORANGE), ("thigh_z", S1_THIGH_Z, GREEN)],
         frame=(263, 623, 49, 284), xdom=(51.37, 55.71), ydom=(-4.36, 2.16),
         xticks=S1_XTICKS, xpre="12:", yticks=[-4, -3, -2, -1, 0, 1, 2], ydec=0, fs=10.4,
         legend=dict(x=268, y=223, fs=10.3, sym=22)),
    dict(series=[("thigh_x", S3_THIGH_X, BLUE), ("thigh_y", S3_THIGH_Y, ORANGE), ("thigh_z", S3_THIGH_Z, GREEN)],
         frame=(799, 1177, 49, 297), xdom=(38.43, 42.76), ydom=(-2.40, 0.72),
         xticks=S3_XTICKS, xpre="44:", yticks=[-2.0, -1.5, -1.0, -0.5, 0.0, 0.5], ydec=1, fs=11,
         legend=dict(x=804, y=233, fs=11, sym=24)),
    dict(series=[("back_x", S1_BACK_X, BLUE), ("back_y", S1_BACK_Y, ORANGE), ("back_z", S1_BACK_Z, GREEN)],
         frame=(257, 640, 349, 598), xdom=(51.36, 55.72), ydom=(-2.53, 0.69),
         xticks=S1_XTICKS, xpre="12:", yticks=[-2.5, -2.0, -1.5, -1.0, -0.5, 0.0, 0.5], ydec=1, fs=11,
         legend=dict(x=263, y=535, fs=10.8, sym=25)),
    dict(series=[("back_x", S3_BACK_X, BLUE), ("back_y", S3_BACK_Y, ORANGE), ("back_z", S3_BACK_Z, GREEN)],
         frame=(782, 1198, 347, 619), xdom=(38.43, 42.77), ydom=(-1.47, 0.33),
         xticks=S3_XTICKS, xpre="44:", yticks=[-1.4, -1.2, -1.0, -0.8, -0.6, -0.4, -0.2, 0.0, 0.2], ydec=1, fs=12,
         legend=dict(x=788, y=550, fs=11.6, sym=26)),
    dict(series=[("back", S1_RES_BACK, BLUE), ("thigh", S1_RES_THIGH, ORANGE)],
         frame=(250, 627, 663, 911), xdom=(51.36, 55.72), ydom=(-0.05, 4.55),
         xticks=S1_XTICKS, xpre="12:", yticks=[0, 1, 2, 3, 4], ydec=0, fs=11,
         legend=None, circles=S1_CIRCLES),
    dict(series=[("back", S3_RES_BACK, BLUE), ("thigh", S3_RES_THIGH, ORANGE)],
         frame=(778, 1189, 665, 932), xdom=(38.41, 42.80), ydom=(0.22, 2.54),
         xticks=S3_XTICKS, xpre="44:", yticks=[0.5, 1.0, 1.5, 2.0, 2.5], ydec=1, fs=12,
         legend=None, circles=S3_CIRCLES),
]


def fmt_num(v, dec):
    s = f"{v:.{dec}f}"
    return s.replace("-", "\u2212")


def build_panel(cfg):
    rows = []
    for name, pts, _c in cfg["series"]:
        for t, v in pts:
            rows.append({"t": t, "v": v, "series": name})
    df = pd.DataFrame(rows)
    L, R, T, B = cfg["frame"]
    fs = cfg["fs"]
    xs = alt.Scale(domain=list(cfg["xdom"]), range=[L, R], nice=False, zero=False)
    ys = alt.Scale(domain=list(cfg["ydom"]), range=[B, T], nice=False, zero=False)
    names = [s[0] for s in cfg["series"]]
    cols = [s[2] for s in cfg["series"]]
    lg = cfg["legend"]
    if lg:
        legend = alt.Legend(orient="none", legendX=lg["x"], legendY=lg["y"], title=None,
                            symbolType="stroke", symbolSize=lg["sym"] ** 2, symbolStrokeWidth=1.5,
                            labelFont=TICKFONT, labelFontSize=lg["fs"], labelColor="#111111",
                            padding=3, strokeColor="#cccccc", fillColor="#ffffff",
                            cornerRadius=3, rowPadding=0, labelOffset=8)
    else:
        legend = None
    lines = alt.Chart(df).mark_line(strokeWidth=1.45).encode(
        x=alt.X("t:Q", scale=xs, axis=None),
        y=alt.Y("v:Q", scale=ys, axis=None),
        color=alt.Color("series:N", scale=alt.Scale(domain=names, range=cols), legend=legend),
    )
    layers = [lines]
    if cfg.get("circles"):
        cdf = pd.DataFrame(cfg["circles"], columns=["t", "v"])
        circ = alt.Chart(cdf).mark_point(shape="circle", size=1190, filled=False,
                                         stroke=TXT_ORANGE, strokeWidth=4.6, opacity=1).encode(
            x=alt.X("t:Q", scale=xs, axis=None), y=alt.Y("v:Q", scale=ys, axis=None))
        layers.append(circ)

    # axis ticks and labels, positioned through the panel's own scales
    xt = pd.DataFrame({"t": cfg["xticks"], "lab": [f"{cfg['xpre']}{t}.000000" for t in cfg["xticks"]]})
    yt = pd.DataFrame({"v": cfg["yticks"], "lab": [fmt_num(v, cfg["ydec"]) for v in cfg["yticks"]]})
    layers.append(alt.Chart(xt).mark_rule(color="#333333", strokeWidth=1).encode(
        x=alt.X("t:Q", scale=xs, axis=None), y=alt.value(B), y2=alt.value(B + 4)))
    layers.append(alt.Chart(xt).mark_text(font=TICKFONT, fontSize=fs, color="#222222",
                                          align="center", baseline="top").encode(
        x=alt.X("t:Q", scale=xs, axis=None), y=alt.value(B + 7), text="lab:N"))
    layers.append(alt.Chart(yt).mark_rule(color="#333333", strokeWidth=1).encode(
        y=alt.Y("v:Q", scale=ys, axis=None), x=alt.value(L - 4), x2=alt.value(L)))
    layers.append(alt.Chart(yt).mark_text(font=TICKFONT, fontSize=fs, color="#222222",
                                          align="right", baseline="middle").encode(
        y=alt.Y("v:Q", scale=ys, axis=None), x=alt.value(L - 8), text="lab:N"))

    fdf = pd.DataFrame([{"x0": cfg["xdom"][0], "x1": cfg["xdom"][1], "y0": cfg["ydom"][0], "y1": cfg["ydom"][1]}])
    frame = alt.Chart(fdf).mark_rect(fillOpacity=0, stroke="#3a3a3a", strokeWidth=1).encode(
        x=alt.X("x0:Q", scale=xs, axis=None), x2="x1:Q",
        y=alt.Y("y0:Q", scale=ys, axis=None), y2="y1:Q")
    layers.append(frame)
    return alt.layer(*layers)


ONE = alt.Data(values=[{"k": 1}])


def label(text, x, y, size, color="black", weight="normal", align="left", angle=None):
    kw = dict(text=text, fontSize=size, color=color, font=SANS, align=align,
              baseline="alphabetic", fontWeight=weight)
    if angle is not None:
        kw["angle"] = angle
    return alt.Chart(ONE).mark_text(**kw).encode(x=alt.value(x), y=alt.value(y))


def hline(x0, x1, y, w=2):
    return alt.Chart(ONE).mark_rule(color="black", strokeWidth=w).encode(
        x=alt.value(x0), x2=alt.value(x1), y=alt.value(y))


texts = [
    hline(10, W, 3), hline(10, W, 45),
    label(TITLE_S1, 430, 30, 26.5, weight="bold", align="center"),
    label(TITLE_S3, 970, 30, 26.5, weight="bold", align="center"),
    label("Thigh", 24, 133, 26), label("sensor", 24, 163, 26),
    label("Back", 24, 400, 26), label("sensor", 24, 431, 26),
    label("Resultant", 24, 717, 26),
    label("(", 24, 748, 26), label("Thigh", 32.7, 748, 26, color=TXT_ORANGE),
    label("sensor", 24, 778, 26, color=TXT_ORANGE), label(";", 102, 778, 26),
    label("Back", 24, 809, 26, color=TXT_BLUE),
    label("sensor", 24, 840, 26, color=TXT_BLUE), label(")", 102, 840, 26),
    label("acceleration", 187, 213, 24, align="center", angle=270),
    label("acceleration", 180, 487, 24, align="center", angle=270),
    label("timestamp", 427, 985, 27, align="center"),
    label("timestamp", 955, 985, 27, align="center"),
]

panels = [build_panel(p) for p in PANELS]

chart = alt.layer(*panels, *texts).resolve_scale(
    x="independent", y="independent", color="independent"
).properties(
    width=W, height=H, padding=0, autosize=alt.AutoSizeParams(type="none")
).configure_view(stroke=None).configure(background="white")

chart.save("out.html", embed_options={"renderer": "svg", "actions": False})
